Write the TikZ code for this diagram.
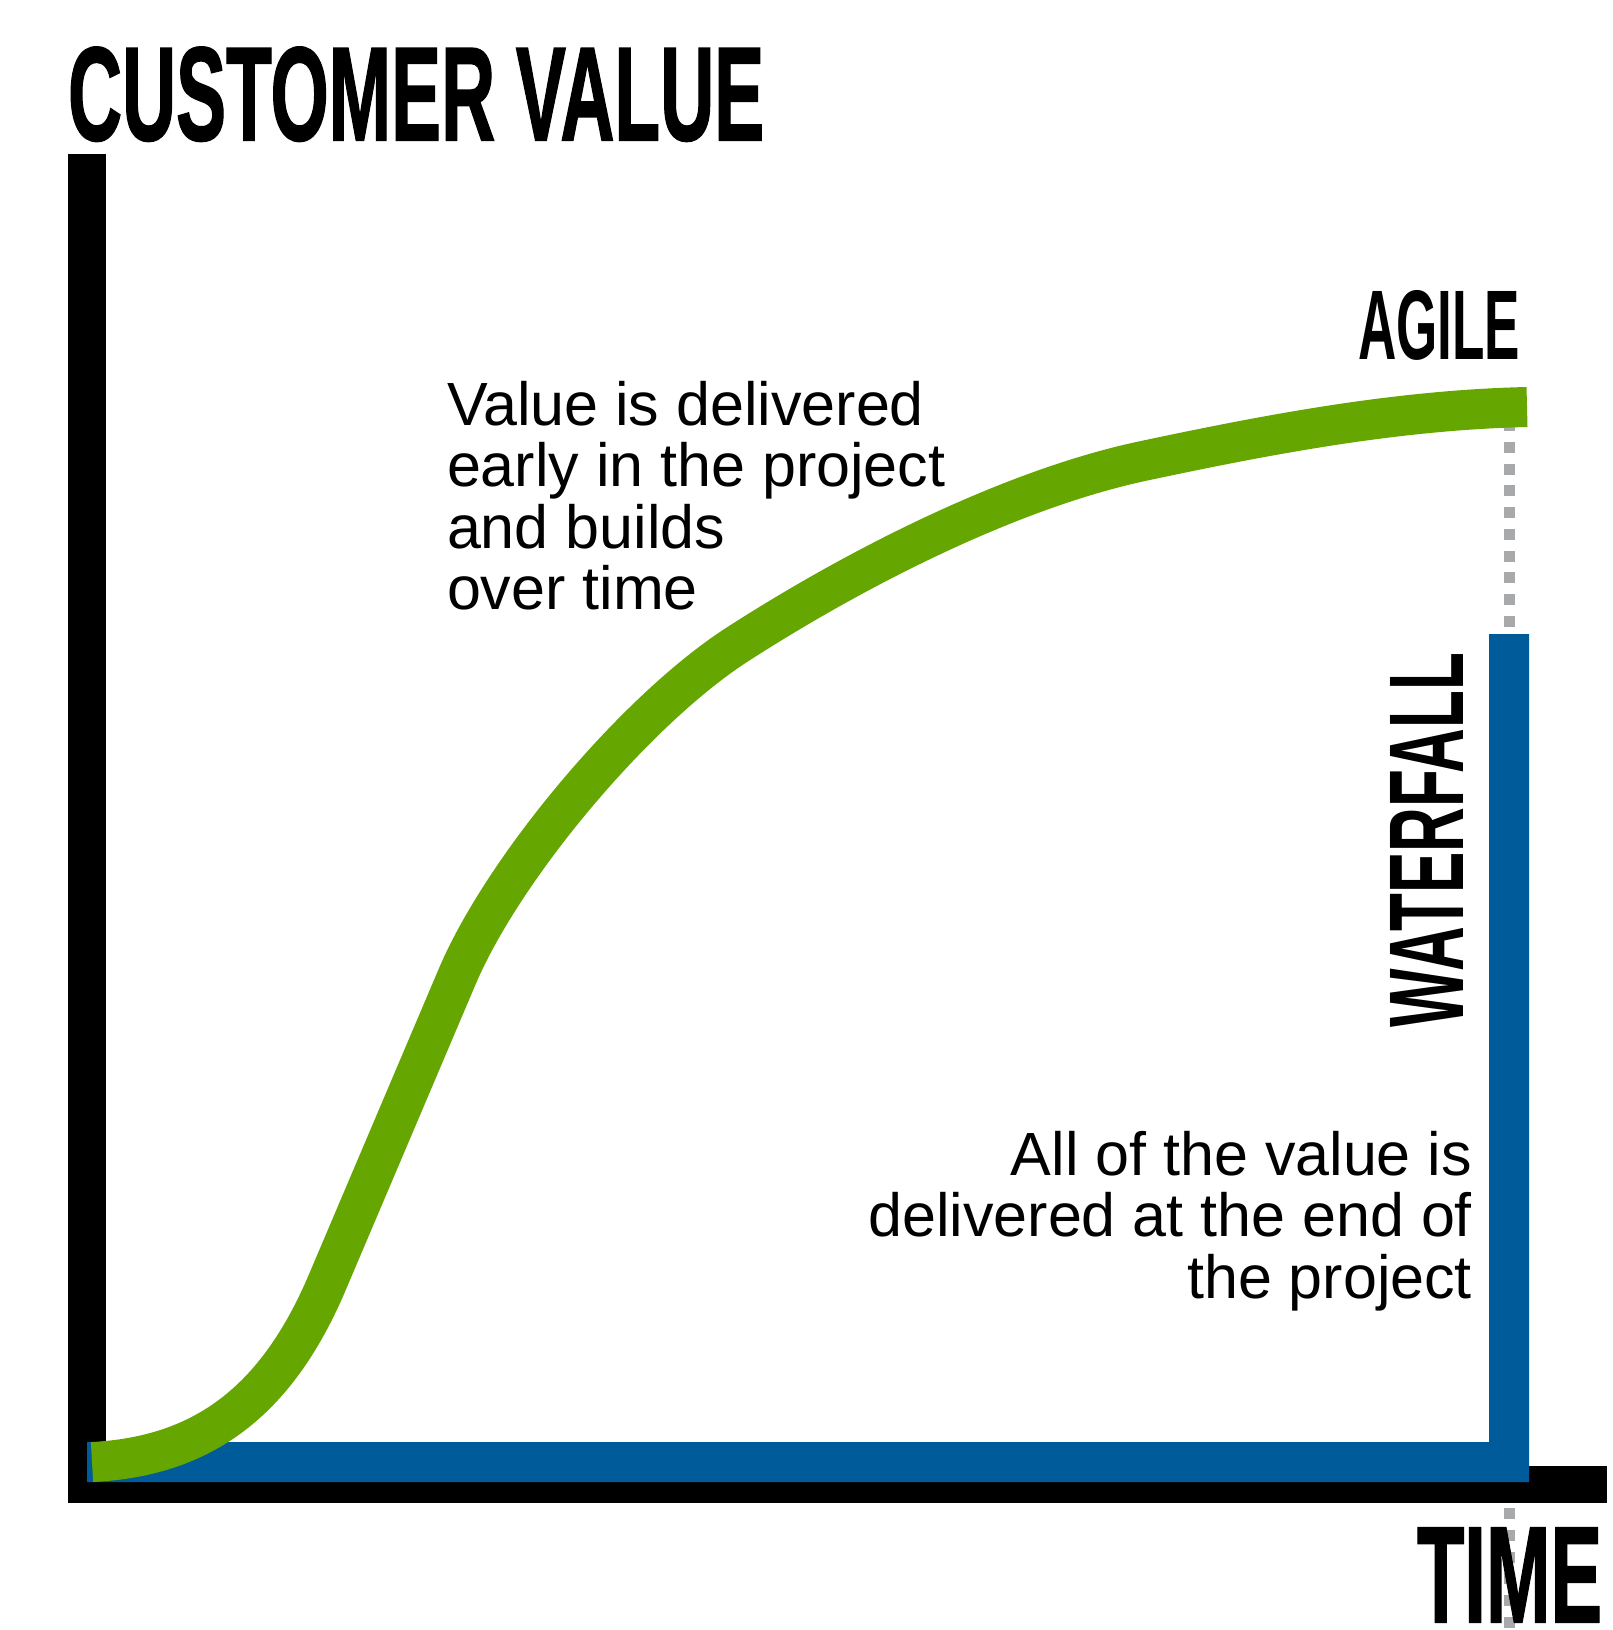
\documentclass[tikz,border=0pt]{standalone}
\usepackage{fontspec}
\setmainfont{Liberation Sans}
\newfontfamily\headfont{Liberation Sans Bold}[FakeBold=1.5]
\newfontfamily\labelfont{Liberation Sans Bold}
\definecolor{agile}{RGB}{102,166,0}
\definecolor{wfall}{RGB}{0,91,154}
\definecolor{guide}{RGB}{167,169,170}
\begin{document}
\begin{tikzpicture}[x=1pt,y=-1pt,
  axisbar/.style={fill=black},
  guideline/.style={guide, line width=11pt, dash pattern=on 11pt off 10.76pt},
  plain/.style={inner sep=0pt, outer sep=0pt},
  note/.style={plain, font=\fontsize{61}{61.5}\selectfont}]
\useasboundingbox (0,0) rectangle (1612,1630);
\fill[white] (0,0) rectangle (1612,1630);
% dotted guide
\coordinate (gtop) at (1509.5,420);
\coordinate (gbot) at (1509.5,1630);
\draw[guideline] (gtop) -- (gbot);
% axes
\fill[axisbar] (68,154) rectangle (106,1503);
\fill[axisbar] (68,1466) rectangle (1607,1503);
% waterfall
\fill[wfall] (87,1442) -- (1489,1442) -- (1489,634) -- (1529,634) -- (1529,1482) -- (87,1482) -- cycle;
% agile curve
\draw[agile, line width=40pt]
  (92,1462) .. controls (202,1456.5) and (276,1402.6) .. (327,1283)
  -- (457,977)
  .. controls (503.8,866.6) and (637,708.8) .. (738,644)
  .. controls (864,563) and (1016,488) .. (1143,461)
  .. controls (1270,434) and (1397,410) .. (1527,407);
% labels
\node[plain, anchor=north west] (yaxis) at (68,47) {\resizebox{696pt}{93pt}{\headfont CUSTOMER VALUE}};
\node[plain, anchor=north west] (xaxis) at (1417,1528) {\resizebox{185pt}{94pt}{\headfont TIME}};
\node[plain, anchor=north west] (agilelbl) at (1358,290) {\resizebox{162pt}{69pt}{\labelfont AGILE}};
\node[plain, anchor=south west, rotate=90] (wfalllbl) at (1463,1027) {\resizebox{374pt}{73pt}{\labelfont WATERFALL}};
\node[note, anchor=base west] (agilenote) at (447,425) {\vtop{\hbox{Value is delivered}\hbox{early in the project}\hbox{and builds}\hbox{over time}}};
\node[note, anchor=base east] (wfallnote) at (1472,1175) {\vtop{\halign{\hfil#\cr All of the value is\cr delivered at the end of\cr the project\cr}}};
\end{tikzpicture}
\end{document}
